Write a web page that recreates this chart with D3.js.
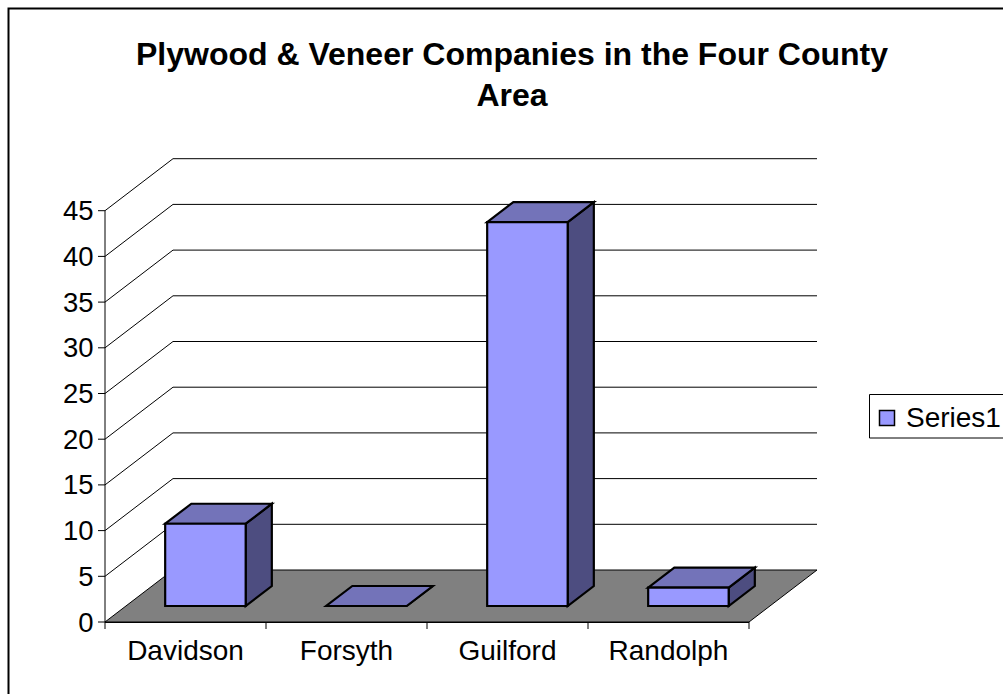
<!DOCTYPE html>
<html><head><meta charset="utf-8">
<script src="https://cdn.jsdelivr.net/npm/d3@7/dist/d3.min.js"></script>
<style>html,body{margin:0;padding:0;background:#fff}svg{display:block}text{font-family:"Liberation Sans",Arial,sans-serif;fill:#000}</style>
</head><body><svg id="c" width="1003" height="694"></svg>
<script>
const categories=["Davidson","Forsyth","Guilford","Randolph"];
const values=[9,0,42,2];
const tickLabels=[0,5,10,15,20,25,30,35,40,45];
const titleLines=["Plywood & Veneer Companies in the Four County","Area"];
const seriesName="Series1";

const svg=d3.select("#c");
svg.append("path").attr("d","M8.5,1100V8.5H1100").attr("fill","none").attr("stroke","#000").attr("stroke-width",2);

const y=d3.scaleLinear().domain([0,45]).range([622,210.7]);
const x=d3.scaleBand().domain(categories).range([105,749]);
const dx=68,dy=-52;
const P=(px,py,d)=>[px+dx*d,py+dy*d];
const line=d3.line();
const poly=pts=>"M"+pts.map(p=>p.join(",")).join("L")+"Z";

const g=svg.append("g");
tickLabels.slice(1).forEach(t=>{
  g.append("path").attr("d",line([[105,y(t)],P(105,y(t),1),P(749,y(t),1)])).attr("fill","none").attr("stroke","#000").attr("stroke-width",1);
});
g.append("path").attr("d",poly([[105,622],[749,622],P(749,622,1),P(105,622,1)])).attr("fill","#808080").attr("stroke","#000").attr("stroke-width",1);

const axY=svg.append("g");
axY.append("line").attr("x1",105).attr("x2",105).attr("y1",y(0)).attr("y2",y(45)).attr("stroke","#000");
tickLabels.forEach(t=>{
  axY.append("line").attr("x1",98).attr("x2",105).attr("y1",y(t)).attr("y2",y(t)).attr("stroke","#000");
  axY.append("text").attr("x",93.5).attr("y",y(t)+9.5).attr("text-anchor","end").attr("font-size",27.5).text(t);
});
const axX=svg.append("g");
axX.append("line").attr("x1",105).attr("x2",749).attr("y1",622.5).attr("y2",622.5).attr("stroke","#000");
[...categories.map(c=>x(c)),749].forEach(v=>{
  axX.append("line").attr("x1",v).attr("x2",v).attr("y1",622).attr("y2",629).attr("stroke","#000");
});
categories.forEach(c=>{
  axX.append("text").attr("x",x(c)+x.bandwidth()/2).attr("y",660).attr("text-anchor","middle").attr("font-size",28).text(c);
});

const barW=x.bandwidth()/2;
const d0=16/52,d1=36/52;
const bars=svg.append("g").attr("stroke","#000").attr("stroke-width",2.2);
categories.forEach((c,i)=>{
  const x0=x(c)+x.bandwidth()/4-1, x1=x0+barW;
  const yb=y(0), yt=y(values[i]);
  bars.append("path").attr("d",poly([P(x1,yt,d0),P(x1,yt,d1),P(x1,yb,d1),P(x1,yb,d0)])).attr("fill","#4d4d80");
  bars.append("path").attr("d",poly([P(x0,yt,d0),P(x1,yt,d0),P(x1,yt,d1),P(x0,yt,d1)])).attr("fill","#7373b9");
  bars.append("path").attr("d",poly([P(x0,yb,d0),P(x1,yb,d0),P(x1,yt,d0),P(x0,yt,d0)])).attr("fill","#9999ff");
});

titleLines.forEach((t,i)=>{
  svg.append("text").attr("x",512).attr("y",65+i*40.5).attr("text-anchor","middle").attr("font-size",32).attr("font-weight","bold").text(t);
});

const lg=svg.append("g");
lg.append("path").attr("d","M1100,394.5H869.5V438H1100").attr("fill","#fff").attr("stroke","#000").attr("stroke-width",1);
lg.append("rect").attr("x",879.5).attr("y",410.5).attr("width",15).attr("height",15).attr("fill","#9999ff").attr("stroke","#000").attr("stroke-width",1.5);
lg.append("text").attr("x",906).attr("y",427).attr("font-size",28).text(seriesName);
</script></body></html>
